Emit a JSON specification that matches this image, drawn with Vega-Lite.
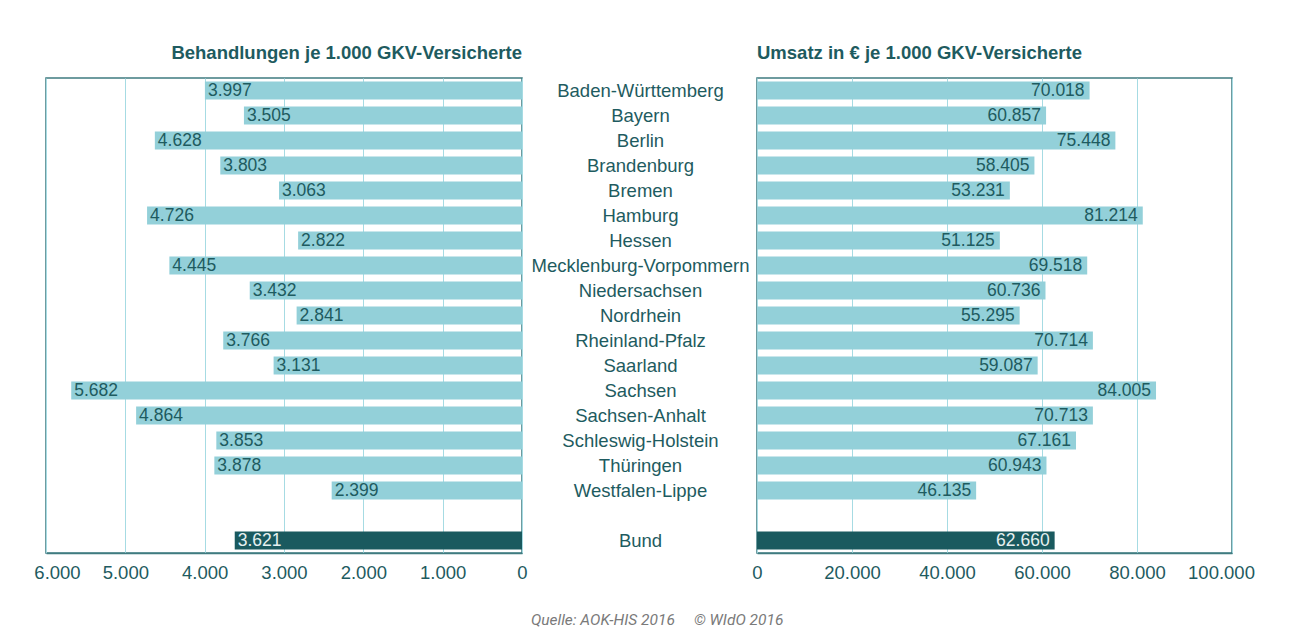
{
  "$schema": "https://vega.github.io/schema/vega-lite/v6.json",
  "background": "white",
  "padding": {"left": 33, "top": 42, "right": 5, "bottom": 2},
  "bounds": "flush",
  "spacing": 235,
  "config": {
    "font": "Liberation Sans",
    "view": {"stroke": "#3f7b80", "strokeWidth": 1.5},
    "locale": {"number": {"decimal": ",", "thousands": ".", "grouping": [3], "currency": ["", " €"]}},
    "title": {"font": "Liberation Sans", "fontSize": 18.5, "fontWeight": "bold", "color": "#1e5b60"}
  },
  "data": {"values": [
    {"state": "Baden-Württemberg", "typ": "Land", "beh": 3997, "ums": 70018},
    {"state": "Bayern", "typ": "Land", "beh": 3505, "ums": 60857},
    {"state": "Berlin", "typ": "Land", "beh": 4628, "ums": 75448},
    {"state": "Brandenburg", "typ": "Land", "beh": 3803, "ums": 58405},
    {"state": "Bremen", "typ": "Land", "beh": 3063, "ums": 53231},
    {"state": "Hamburg", "typ": "Land", "beh": 4726, "ums": 81214},
    {"state": "Hessen", "typ": "Land", "beh": 2822, "ums": 51125},
    {"state": "Mecklenburg-Vorpommern", "typ": "Land", "beh": 4445, "ums": 69518},
    {"state": "Niedersachsen", "typ": "Land", "beh": 3432, "ums": 60736},
    {"state": "Nordrhein", "typ": "Land", "beh": 2841, "ums": 55295},
    {"state": "Rheinland-Pfalz", "typ": "Land", "beh": 3766, "ums": 70714},
    {"state": "Saarland", "typ": "Land", "beh": 3131, "ums": 59087},
    {"state": "Sachsen", "typ": "Land", "beh": 5682, "ums": 84005},
    {"state": "Sachsen-Anhalt", "typ": "Land", "beh": 4864, "ums": 70713},
    {"state": "Schleswig-Holstein", "typ": "Land", "beh": 3853, "ums": 67161},
    {"state": "Thüringen", "typ": "Land", "beh": 3878, "ums": 60943},
    {"state": "Westfalen-Lippe", "typ": "Land", "beh": 2399, "ums": 46135},
    {"state": "Bund", "typ": "Bund", "beh": 3621, "ums": 62660}
  ]},
  "title": {
    "text": "Quelle: AOK-HIS 2016\u00a0\u00a0\u00a0\u00a0 © WIdO 2016",
    "orient": "bottom",
    "anchor": "middle",
    "font": "Roboto",
    "fontStyle": "italic",
    "fontWeight": "normal",
    "fontSize": 15.5,
    "color": "#7a7a7a",
    "offset": 31,
    "dx": 13
  },
  "hconcat": [
    {
      "width": 476,
      "height": 475,
      "title": {"text": "Behandlungen je 1.000 GKV-Versicherte", "anchor": "end", "frame": "group", "baseline": "alphabetic", "offset": 1},
      "encoding": {
        "y": {"field": "state", "type": "nominal", "axis": null,
          "scale": {"domain": ["Baden-Württemberg", "Bayern", "Berlin", "Brandenburg", "Bremen", "Hamburg", "Hessen", "Mecklenburg-Vorpommern", "Niedersachsen", "Nordrhein", "Rheinland-Pfalz", "Saarland", "Sachsen", "Sachsen-Anhalt", "Schleswig-Holstein", "Thüringen", "Westfalen-Lippe", "gap", "Bund"], "paddingInner": 0.28, "paddingOuter": 0.14}},
        "x": {"field": "beh", "type": "quantitative",
          "scale": {"domain": [0, 6000], "reverse": true, "nice": false},
          "axis": {"title": null, "values": [0, 1000, 2000, 3000, 4000, 5000, 6000], "format": ",.0f", "grid": true, "gridColor": "#a6dbe3", "gridWidth": 1, "ticks": false, "domainColor": "#3f7b80", "domainWidth": 1.5, "labelColor": "#1e5b60", "labelFontSize": 18.5, "labelPadding": 10, "labelFlush": false, "labelOverlap": false,
            "labelOffset": {"condition": {"test": "datum.value == 6000", "value": 11}, "value": 0}}}
      },
      "layer": [
        {"mark": {"type": "bar"},
         "encoding": {"color": {"condition": {"test": "datum.typ == 'Bund'", "value": "#1a5a5f"}, "value": "#93d0d9"}}},
        {"mark": {"type": "text", "align": "left", "baseline": "middle", "dx": 3, "fontSize": 17.5},
         "encoding": {"text": {"field": "beh", "type": "quantitative", "format": ",.0f"},
           "color": {"condition": {"test": "datum.typ == 'Bund'", "value": "#e6f0f0"}, "value": "#1e5b60"}}}
      ]
    },
    {
      "width": 475,
      "height": 475,
      "title": {"text": "Umsatz in € je 1.000 GKV-Versicherte", "anchor": "start", "frame": "group", "baseline": "alphabetic", "offset": 1},
      "encoding": {
        "y": {"field": "state", "type": "nominal",
          "scale": {"domain": ["Baden-Württemberg", "Bayern", "Berlin", "Brandenburg", "Bremen", "Hamburg", "Hessen", "Mecklenburg-Vorpommern", "Niedersachsen", "Nordrhein", "Rheinland-Pfalz", "Saarland", "Sachsen", "Sachsen-Anhalt", "Schleswig-Holstein", "Thüringen", "Westfalen-Lippe", "gap", "Bund"], "paddingInner": 0.28, "paddingOuter": 0.14},
          "axis": {"orient": "left", "title": null, "ticks": false, "domain": false, "labelAlign": "center", "labelBaseline": "middle", "labelPadding": 117, "labelFontSize": 18.5, "labelColor": "#1e5b60", "labelLimit": 400, "labelExpr": "datum.label == 'gap' ? '' : datum.label"}},
        "x": {"field": "ums", "type": "quantitative",
          "scale": {"domain": [0, 100000], "nice": false},
          "axis": {"title": null, "values": [0, 20000, 40000, 60000, 80000, 100000], "format": ",.0f", "grid": true, "gridColor": "#a6dbe3", "gridWidth": 1, "ticks": false, "domainColor": "#3f7b80", "domainWidth": 1.5, "labelColor": "#1e5b60", "labelFontSize": 18.5, "labelPadding": 10, "labelFlush": false, "labelOverlap": false,
            "labelOffset": {"condition": {"test": "datum.value == 100000", "value": -11}, "value": 0}}}
      },
      "layer": [
        {"mark": {"type": "bar"},
         "encoding": {"color": {"condition": {"test": "datum.typ == 'Bund'", "value": "#1a5a5f"}, "value": "#93d0d9"}}},
        {"mark": {"type": "text", "align": "right", "baseline": "middle", "dx": -5, "fontSize": 17.5},
         "encoding": {"text": {"field": "ums", "type": "quantitative", "format": ",.0f"},
           "color": {"condition": {"test": "datum.typ == 'Bund'", "value": "#e6f0f0"}, "value": "#1e5b60"}}}
      ]
    }
  ]
}
